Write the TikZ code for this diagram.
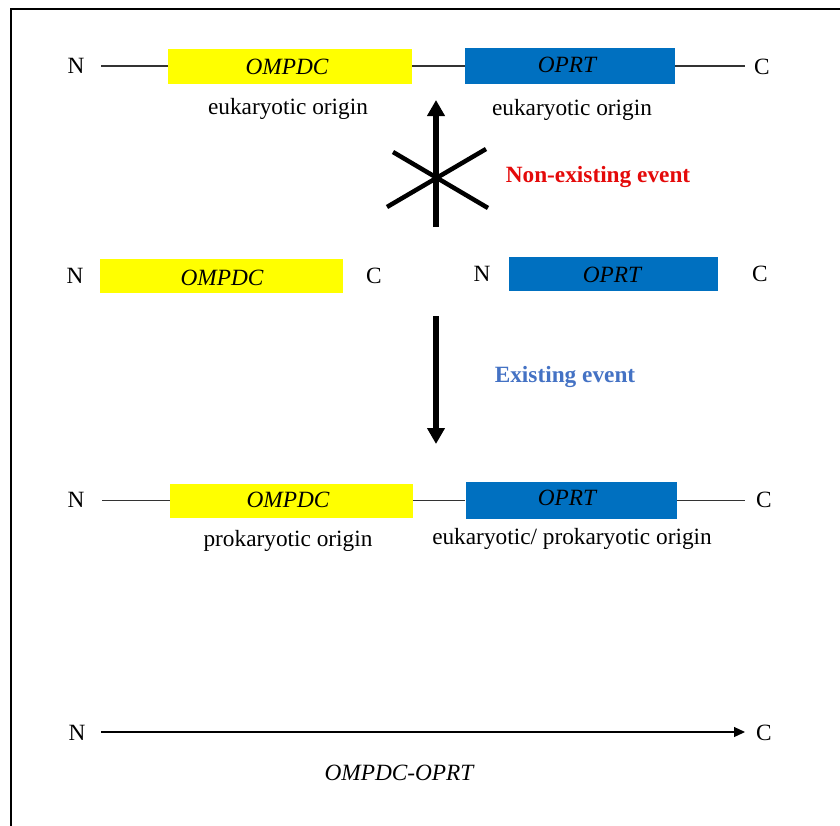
\documentclass[tikz,border=0pt]{standalone}
\usepackage{fontspec}
\setmainfont{Liberation Serif}
\usetikzlibrary{arrows.meta}
\definecolor{gyellow}{RGB}{255,255,0}
\definecolor{gblue}{RGB}{0,112,192}
\definecolor{evred}{RGB}{228,10,10}
\definecolor{evblue}{RGB}{68,114,196}
\begin{document}
\begin{tikzpicture}[x=1pt,y=-1pt,
  txt/.style={font=\fontsize{23.3}{28}\selectfont, inner sep=0pt, anchor=base},
  gene/.style={txt, font=\fontsize{23.3}{28}\selectfont\itshape},
  ybox/.style={fill=gyellow, draw=none, inner sep=0pt, minimum width=#1},
  bbox/.style={fill=gblue, draw=none, inner sep=0pt, minimum width=#1},
  link/.style={line width=1.2pt, black!80},
  bigarrow/.style={line width=5.5pt, -{Triangle[length=16pt,width=17pt]}},
  crossline/.style={line width=4.5pt}]
\useasboundingbox (0,0) rectangle (840,825);
\draw[line width=2pt] (11,826) -- (11,9) -- (841,9);

% Row 1
\node[ybox=244pt, minimum height=35pt] (y1) at (290,66) {};
\node[bbox=210pt, minimum height=36pt] (b1) at (570,66) {};
\node[txt] (n1) at (76,73) {N};
\node[txt] (c1) at (762,74) {C};
\node[gene] (t_y1) at (287,74) {OMPDC};
\node[gene] (t_b1) at (567,72) {OPRT};
\node[txt] (o_y1) at (288,114) {eukaryotic origin};
\node[txt] (o_b1) at (572,115) {eukaryotic origin};
\coordinate (l1) at (101,66);
\coordinate (r1) at (745,66);
\draw[link] (l1) -- (y1.west);
\draw[link] (y1.east) -- (b1.west);
\draw[link] (b1.east) -- (r1);

% non-existing event
\coordinate (ua) at (436,227);
\coordinate (ub) at (436,100);
\draw[bigarrow] (ua) -- (ub);
\coordinate (x1) at (387,207);
\coordinate (x2) at (486,149);
\coordinate (x3) at (393,152);
\coordinate (x4) at (488,208);
\draw[crossline] (x1) -- (x2);
\draw[crossline] (x3) -- (x4);
\node[txt, font=\fontsize{23.3}{28}\selectfont\bfseries, text=evred] (ne) at (598,182) {Non-existing event};

% Row 2
\node[ybox=243pt, minimum height=34pt] (y2) at (221.5,276) {};
\node[bbox=209pt, minimum height=34pt] (b2) at (613.5,274) {};
\node[txt] (n2) at (75,283) {N};
\node[txt] (c2) at (374,283) {C};
\node[txt] (n3) at (482,281) {N};
\node[txt] (c3) at (760,281) {C};
\node[gene] (t_y2) at (222,285) {OMPDC};
\node[gene] (t_b2) at (612,282) {OPRT};

% existing event
\coordinate (da) at (436,316);
\coordinate (db) at (436,444);
\draw[bigarrow] (da) -- (db);
\node[txt, font=\fontsize{23.3}{28}\selectfont\bfseries, text=evblue] (ee) at (565,382) {Existing event};

% Row 3
\node[ybox=243pt, minimum height=34pt] (y3) at (291.5,500.5) {};
\node[bbox=211pt, minimum height=37pt] (b3) at (571,500.5) {};
\node[txt] (n4) at (76,507) {N};
\node[txt] (c4) at (764,507) {C};
\node[gene] (t_y3) at (288,507) {OMPDC};
\node[gene] (t_b3) at (567,505) {OPRT};
\node[txt] (o_y3) at (288,546) {prokaryotic origin};
\node[txt] (o_b3) at (572,544) {eukaryotic/ prokaryotic origin};
\coordinate (l3) at (102,500.5);
\coordinate (r3) at (745,500.5);
\draw[link] (l3) -- (y3.west);
\draw[link] (y3.east) -- (b3.west);
\draw[link] (b3.east) -- (r3);

% Row 4
\node[txt] (n5) at (77,740) {N};
\node[txt] (c5) at (764,740) {C};
\coordinate (l4) at (101,732);
\coordinate (r4) at (745,732);
\draw[link, black, line width=1.2pt, -{Triangle[length=11pt,width=10pt]}] (l4) -- (r4);
\node[gene] (t_f) at (399,780) {OMPDC-OPRT};
\end{tikzpicture}
\end{document}
